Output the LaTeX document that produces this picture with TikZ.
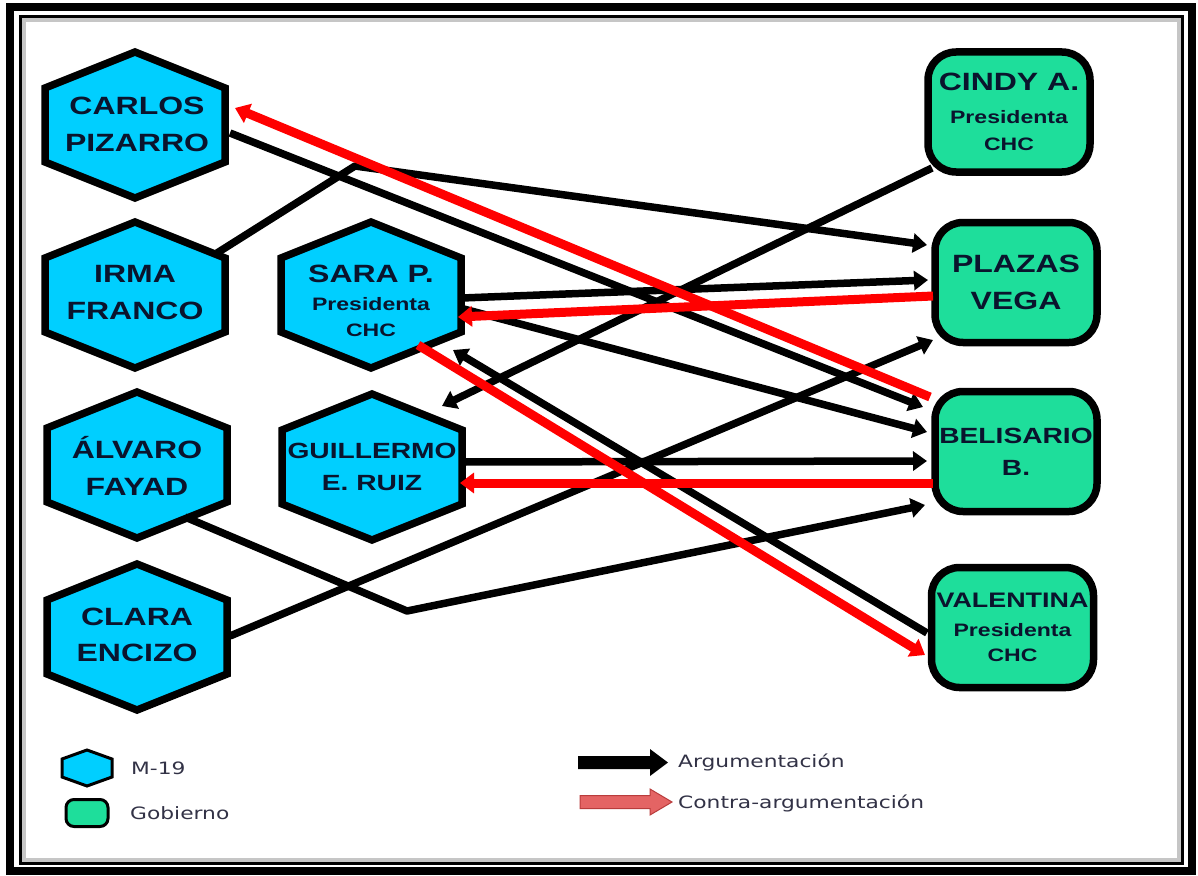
\documentclass[tikz,border=0pt]{standalone}
\usepackage{fontspec}
\usetikzlibrary{arrows.meta}
\newfontfamily\namefont[FakeStretch=1.28]{Liberation Sans}
\newfontfamily\legfont[FakeStretch=1.28]{DejaVu Sans}
\newcommand\presf{\fontsize{18}{20}\selectfont}
\definecolor{hexfill}{RGB}{0,207,255}
\definecolor{boxfill}{RGB}{30,222,155}
\definecolor{ink}{RGB}{10,20,45}
\definecolor{legink}{RGB}{50,50,70}
\definecolor{argred}{RGB}{255,0,0}
\definecolor{legred}{RGB}{228,100,100}
\definecolor{legredline}{RGB}{185,60,60}
\tikzset{
  hexshape/.style={draw=black, fill=hexfill, line width=7.5pt, line join=miter},
  nametext/.style={text=ink, align=center, inner sep=0pt, font=\namefont\bfseries\fontsize{25}{37}\selectfont},
  govbox/.style={draw=black, fill=boxfill, line width=7.5pt, rounded corners=28pt, minimum width=162pt, minimum height=120pt, inner sep=0pt, text=ink, align=center, font=\namefont\bfseries\fontsize{25}{37}\selectfont},
  arg/.style={draw=black, line width=7.5pt, line join=round, -{Triangle[length=14pt,width=19pt]}},
  contra/.style={draw=argred, line width=9pt, line join=round, -{Triangle[length=14pt,width=20pt]}},
  legtext/.style={anchor=west, inner sep=0pt, text=legink, font=\legfont\fontsize{17}{20}\selectfont},
}
\newcommand\hexat[5]{% name, hex centre, text position, node options, text
  \coordinate (#1) at (#2);
  \draw[hexshape] ([shift={(0,-73)}]#1) -- ++(90,36) -- ++(0,74) -- ++(-90,36) -- ++(-90,-36) -- ++(0,-74) -- cycle;
  \node[nametext,#4] (#1-t) at (#3) {#5};}
\begin{document}
\begin{tikzpicture}[x=1pt,y=-1pt]
\fill[white] (0,0) rectangle (1198,875);
\useasboundingbox (0,0) rectangle (1198,875);
% frame
\draw[line width=8pt] (10,7.5) rectangle (1191.5,871);
\draw[line width=3pt] (20.5,17) rectangle (1182.5,863.5);
\draw[gray!45, line width=4pt] (24,20.5) rectangle (1179,860);

% M-19 hexagons
\hexat{carlos}{135,125}{137,124}{}{CARLOS\\PIZARRO}
\hexat{irma}{135,295}{135,293}{}{IRMA\\FRANCO}
\hexat{sara}{371,295}{371,301}{font=\namefont\bfseries\fontsize{25}{28}\selectfont}{SARA P.\\ \presf Presidenta\\[-2pt] \presf CHC}
\hexat{alvaro}{137,465}{137,466}{}{ÁLVARO\\FAYAD}
\hexat{guillermo}{372,467}{372,467}{font=\namefont\bfseries\fontsize{22}{32}\selectfont}{GUILLERMO\\E. RUIZ}
\hexat{clara}{137,637}{137,635}{font=\namefont\bfseries\fontsize{25}{36}\selectfont}{CLARA\\ENCIZO}

% Gobierno boxes
\node[govbox, font=\namefont\bfseries\fontsize{25}{33}\selectfont] (cindy) at (1009,112) {CINDY A.\\ \presf Presidenta\\[-6pt] \presf CHC};
\node[govbox] (plazas) at (1016,282.5) {PLAZAS\\VEGA};
\node[govbox, font=\namefont\bfseries\fontsize{22}{32}\selectfont] (belisario) at (1016,451.5) {BELISARIO\\B.};
\node[govbox, font=\namefont\bfseries\fontsize{21}{29}\selectfont] (valentina) at (1012.5,627.5) {VALENTINA\\ \presf Presidenta\\[-4pt] \presf CHC};

% Argumentación (black)
\coordinate (irmabend) at (355,166);
\coordinate (alvarobend) at (407,611);
\draw[arg] ([shift={(95,8)}]carlos.center) -- ([shift={(-93,-44.5)}]belisario.center);
\draw[arg] ([shift={(82,-42)}]irma.center) -- (irmabend) -- ([shift={(-89,-37.5)}]plazas.center);
\draw[arg] ([shift={(-77,56)}]cindy.center) -- ([shift={(70,-61)}]guillermo.center);
\draw[arg] ([shift={(91,3)}]sara.center) -- ([shift={(-88,-2.5)}]plazas.center);
\draw[arg] ([shift={(89,13)}]sara.center) -- ([shift={(-89,-19.5)}]belisario.center);
\draw[arg] ([shift={(-85.5,5.5)}]valentina.center) -- ([shift={(82,55)}]sara.center);
\draw[arg] ([shift={(91,-5)}]guillermo.center) -- ([shift={(-89,9.5)}]belisario.center);
\draw[arg] ([shift={(93,-1)}]clara.center) -- ([shift={(-83,57.5)}]plazas.center);
\draw[arg] ([shift={(48,52)}]alvaro.center) -- (alvarobend) -- ([shift={(-91,53.5)}]belisario.center);

% Contra-argumentación (red)
\draw[contra] ([shift={(-86,-54.5)}]belisario.center) -- ([shift={(100,-17)}]carlos.center);
\draw[contra] ([shift={(-83,13.5)}]plazas.center) -- ([shift={(87,22)}]sara.center);
\draw[contra] ([shift={(47,50)}]sara.center) -- ([shift={(-87.5,27.5)}]valentina.center);
\draw[contra] ([shift={(-83,31.5)}]belisario.center) -- ([shift={(88,16)}]guillermo.center);

% legend
\coordinate (m19) at (87,768);
\draw[draw=black, fill=hexfill, line width=3pt] ([shift={(0,-18)}]m19) -- ++(25,9) -- ++(0,18) -- ++(-25,9) -- ++(-25,-9) -- ++(0,-18) -- cycle;
\node[legtext] (m19-t) at (131,768) {M-19};
\node[draw=black, fill=boxfill, line width=3pt, rounded corners=8pt, minimum width=42pt, minimum height=27pt, inner sep=0pt] (gob) at (87,813) {};
\node[legtext] (gob-t) at (130,813) {Gobierno};
\fill[black] (578,756) -- (650,756) -- (650,749) -- (668,762.5) -- (650,776) -- (650,769) -- (578,769) -- cycle;
\filldraw[fill=legred, draw=legredline, line width=1pt] (580,795.5) -- (650,795.5) -- (650,789) -- (672,802) -- (650,815) -- (650,808.5) -- (580,808.5) -- cycle;
\node[legtext] (arg-t) at (678,762) {Argumentación};
\node[legtext] (contra-t) at (678,803) {Contra-argumentación};
\end{tikzpicture}
\end{document}
